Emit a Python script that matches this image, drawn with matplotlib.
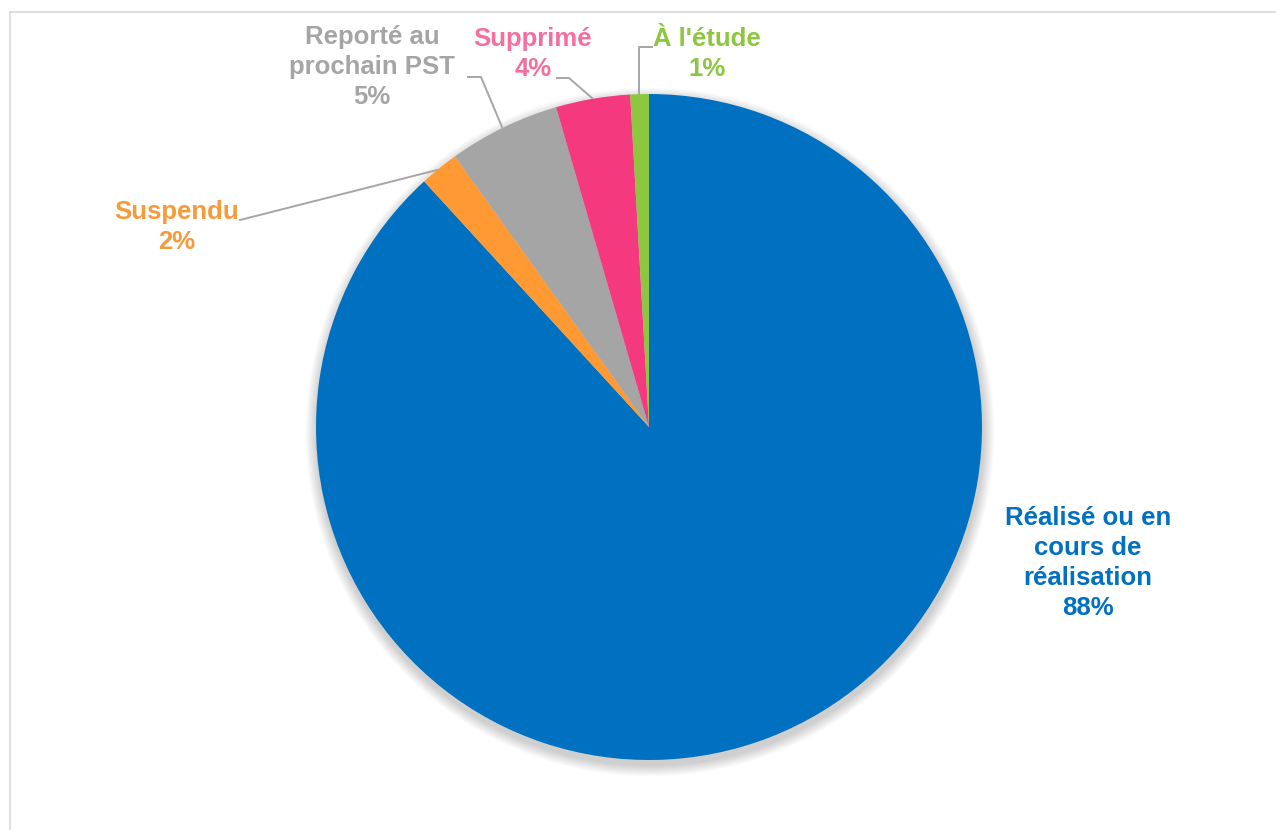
import matplotlib
matplotlib.use("Agg")
import matplotlib.pyplot as plt
from matplotlib.patches import Circle
from matplotlib.lines import Line2D

categories = ["Réalisé ou en\ncours de\nréalisation", "Suspendu", "Reporté au\nprochain PST", "Supprimé", "À l'étude"]
values = [88.2, 1.9, 5.4, 3.6, 0.9]
slice_colors = ["#0070C0", "#FF9933", "#A5A5A5", "#F5397E", "#8DC63F"]
label_colors = ["#0070C0", "#F79A3A", "#A5A5A5", "#F56F9E", "#8DC63F"]

W, H = 1276, 830
fig = plt.figure(figsize=(W / 100, H / 100), dpi=100)
ax = fig.add_axes([0, 0, 1, 1])

cx, cy, R = 649, H - 427, 333

# soft shadow
for k in range(16):
    ax.add_patch(Circle((cx + 1, cy - 5), R + 1 + k * 0.7, color="black", alpha=0.013, lw=0, zorder=0))

wedges, _ = ax.pie(values, colors=slice_colors, startangle=90, counterclock=False,
                   center=(cx, cy), radius=R, wedgeprops=dict(linewidth=0))
for w in wedges:
    w.set_zorder(2)

ax.set_xlim(0, W)
ax.set_ylim(0, H)
ax.set_aspect("equal")
ax.axis("off")

# frame lines (chart area border)
ax.add_line(Line2D([9.5, W], [H - 12, H - 12], color="#D9D9D9", lw=1.2, zorder=1))
ax.add_line(Line2D([9.5, 9.5], [0, H - 12], color="#D9D9D9", lw=1.2, zorder=1))

def pct(v):
    return f"{round(v)}%"

label_pos = [(1088, 563), (177, 227), (372, 67), (533, 54), (707, 54)]
fs = 18.5
for i, (txt, v) in enumerate(zip(categories, values)):
    x, y = label_pos[i]
    ax.text(x, H - y, f"{txt}\n{pct(v)}", ha="center", va="center", fontsize=fs,
            fontweight="bold", family="Liberation Sans", color=label_colors[i],
            linespacing=1.3, zorder=3)

# leader lines
lc = "#A6A6A6"
leaders = [
    [(240, 220), (437, 170)],
    [(468, 77), (481, 77), (502, 127)],
    [(557, 78), (569, 78), (592, 98)],
    [(652, 47), (639, 47), (639, 94)],
]
for pts in leaders:
    xs = [p[0] for p in pts]
    ys = [H - p[1] for p in pts]
    ax.add_line(Line2D(xs, ys, color=lc, lw=1.4, zorder=1.5))

fig.savefig("out.png", dpi=100, facecolor="white")
